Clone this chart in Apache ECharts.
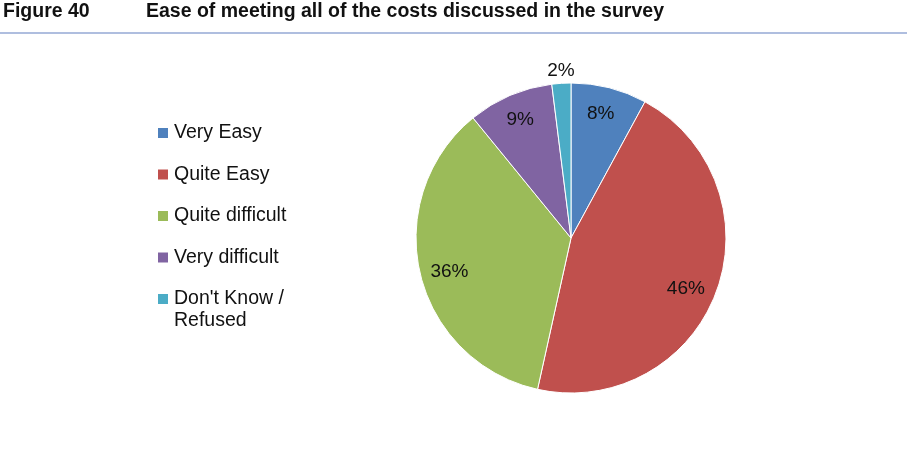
<!DOCTYPE html>
<html>
<head>
<meta charset="utf-8">
<script src="https://cdn.jsdelivr.net/npm/echarts@6/dist/echarts.min.js"></script>
<style>
  html, body { margin: 0; padding: 0; background: #fff; }
  #chart { width: 913px; height: 472px; }
</style>
</head>
<body>
<div id="chart"></div>
<script>
// data
const categories = ['Very Easy', 'Quite Easy', 'Quite difficult', 'Very difficult', "Don't Know / Refused"];
const values = [8, 46, 36, 9, 2];
const colors = ['#4F81BD', '#C0504D', '#9BBB59', '#8064A2', '#4BACC6'];

const chart = echarts.init(document.getElementById('chart'));

const font = 'Liberation Sans, Arial, sans-serif';
const center = [571, 238];
const legendText = { fontFamily: font, fontSize: 19.5, color: '#111', lineHeight: 22 };
const titleText = { fontFamily: font, fontSize: 19.5, fontWeight: 'bold', color: '#111' };

// nudges so the labels sit where Excel's best-fit put them
const labelOffsets = [[-2, 1], [-6, 6], [4, 4], [0, 0], [-2, -38]];

const pieData = categories.map(function (name, i) {
  return { name: name, value: values[i] };
});

// transparent copy of the pie, only used to place the labels further out
const labelData = categories.map(function (name, i) {
  return { name: name, value: values[i], label: { offset: labelOffsets[i] } };
});

let option = {
  color: colors,
  animation: false,
  title: [
    { text: 'Figure 40', left: -2, top: -3, textStyle: titleText },
    { text: 'Ease of meeting all of the costs discussed in the survey', left: 141, top: -3, textStyle: titleText }
  ],
  graphic: [
    {
      type: 'line',
      shape: { x1: 0, y1: 33, x2: 907, y2: 33 },
      style: { stroke: '#95A9D4', lineWidth: 1.5 }
    }
  ],
  // legend split in two so the wrapped last entry keeps its icon on the first line
  legend: [
    {
      orient: 'vertical',
      left: 151,
      top: 117,
      itemWidth: 12,
      itemHeight: 12,
      itemGap: 19.5,
      icon: 'rect',
      textStyle: legendText,
      data: categories.slice(0, 4)
    },
    {
      orient: 'vertical',
      left: 151,
      top: 261,
      itemWidth: 12,
      itemHeight: 12,
      icon: 'rect',
      textStyle: legendText,
      data: categories.slice(4),
      formatter: function () { return "\nDon't Know /\nRefused"; }
    }
  ],
  series: [
    {
      type: 'pie',
      center: center,
      radius: 155,
      startAngle: 90,
      clockwise: true,
      silent: true,
      label: { show: false },
      labelLine: { show: false },
      itemStyle: { borderColor: '#fff', borderWidth: 1 },
      data: pieData
    },
    {
      type: 'pie',
      center: center,
      radius: 252,
      startAngle: 90,
      clockwise: true,
      silent: true,
      itemStyle: { color: 'transparent' },
      label: {
        show: true,
        position: 'inside',
        fontFamily: font,
        fontSize: 19,
        color: '#111',
        formatter: function (p) { return p.value + '%'; }
      },
      labelLine: { show: false },
      data: labelData
    }
  ]
};

chart.setOption(option);
</script>
</body>
</html>
